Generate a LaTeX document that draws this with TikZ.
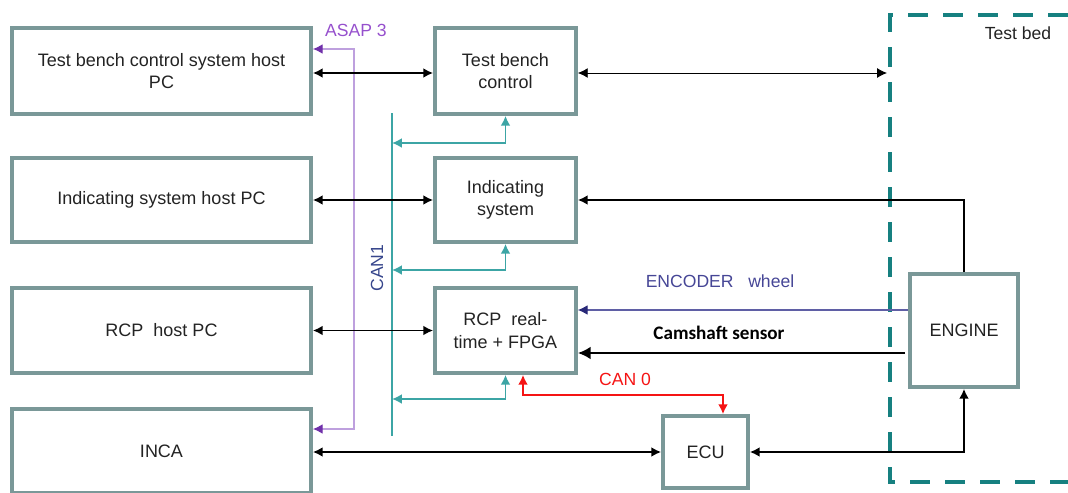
\documentclass[tikz,border=0pt]{standalone}
\usepackage{fontspec}
\setmainfont{Liberation Sans}
\newfontfamily\camfont{Carlito}
\usetikzlibrary{arrows.meta,positioning,calc}
\definecolor{boxgrey}{RGB}{122,152,152}
\definecolor{txtgrey}{RGB}{35,35,35}
\definecolor{canteal}{RGB}{60,165,165}
\definecolor{bedteal}{RGB}{22,128,128}
\definecolor{asapline}{RGB}{190,160,222}
\definecolor{asapdark}{RGB}{112,48,170}
\definecolor{asaptext}{RGB}{150,80,205}
\definecolor{encline}{RGB}{95,95,165}
\definecolor{encdark}{RGB}{40,40,120}
\definecolor{encblue}{RGB}{70,70,150}
\definecolor{canblue}{RGB}{55,70,140}
\definecolor{canred}{RGB}{245,20,20}

\begin{document}
\begin{tikzpicture}[x=0.025cm, y=-0.025cm,
    blk/.style={rectangle, draw=boxgrey, line width=2.6pt, fill=white,
                align=center, text=txtgrey, font=\fontsize{12.8}{16}\selectfont},
    link/.style={line width=1.3pt, draw=black,
                 {Latex[length=7pt,width=7pt]}-{Latex[length=7pt,width=7pt]}},
    thinlink/.style={line width=0.6pt, draw=black,
                 {Latex[length=7pt,width=7pt]}-{Latex[length=7pt,width=7pt]}},
    canlink/.style={line width=1.3pt, draw=canteal,
                 {Latex[length=7pt,width=7pt]}-{Latex[length=7pt,width=7pt]}},
    lbl/.style={font=\fontsize{12.5}{15}\selectfont, inner sep=1pt}
  ]
    \useasboundingbox (0,0) rectangle (1068,493);

    % Test bed frame
    \draw[bedteal, line width=3.4pt, dash pattern=on 0.5cm off 0.375cm]
      (1068,15) -- (890,15) -- (890,482) -- (1068,482);
    \node[lbl, text=txtgrey] (bedlbl) at (1018,33) {Test bed};

    % Host PCs
    \node[blk, minimum width=7.475cm, minimum height=2.15cm] (tbpc) at (161.5,71)
      {Test bench control system host\\PC};
    \node[blk, minimum width=7.475cm, minimum height=2.1cm] (ipc) at (161.5,200)
      {Indicating system host PC};
    \node[blk, minimum width=7.475cm, minimum height=2.125cm] (rpc) at (161.5,330.5)
      {RCP~ host PC};
    \node[blk, minimum width=7.475cm, minimum height=2.1cm] (inca) at (161.5,451)
      {INCA};

    % Real-time systems
    \node[blk, minimum width=3.525cm, minimum height=2.15cm] (tbc) at (505.5,71)
      {Test bench\\control};
    \node[blk, minimum width=3.525cm, minimum height=2.1cm] (ind) at (505.5,200)
      {Indicating\\system};
    \node[blk, minimum width=3.525cm, minimum height=2.125cm] (rcp) at (505.5,330.5)
      {RCP~ real-\\time + FPGA};
    \node[blk, minimum width=2.125cm, minimum height=1.8cm] (ecu) at (705.5,452)
      {ECU};
    \node[blk, minimum width=2.7cm, minimum height=2.825cm] (eng) at (964,330.5)
      {ENGINE};

    % ASAP 3
    \coordinate (asapT) at (354,49);
    \coordinate (asapB) at (354,429);
    \draw[asapline, line width=0.9pt,
          {Latex[length=7pt,width=7pt,color=asapdark]}-{Latex[length=7pt,width=7pt,color=asapdark]}]
      (tbpc.east |- asapT) -- (asapT) -- (asapB) -- (inca.east |- asapB);
    \node[lbl, text=asaptext] (asaplbl) at (356,30) {ASAP 3};

    % CAN1 bus
    \coordinate (canT) at (392,113);
    \coordinate (canB) at (392,436);
    \draw[canteal, line width=2pt] (canT) -- (canB);
    \node[lbl, text=canblue, rotate=90] (canlbl) at (377,268) {CAN1};
    \coordinate (j1) at (505.5,143);
    \coordinate (j2) at (505.5,270);
    \coordinate (j3) at (505.5,399);
    \draw[canlink] (tbc.south) -- (j1) -- (canT |- j1);
    \draw[canlink] (ind.south) -- (j2) -- (canT |- j2);
    \draw[canlink] (rcp.south) -- (j3) -- (canT |- j3);

    % host links
    \coordinate (bedW) at (887,73);
    \draw[link] (tbpc.east |- bedW) -- (tbc.west |- bedW);
    \draw[thinlink] (tbc.east |- bedW) -- (bedW);
    \draw[link] (ipc.east) -- (ind.west);
    \draw[link] (rpc.east) -- (rcp.west);
    \draw[link] (inca.east |- ecu.west) -- (ecu.west);
    \draw[link] (ecu.east) -| (eng.south);
    \draw[line width=1.3pt, -{Latex[length=7pt,width=7pt]}] (eng.north) |- (ind.east);

    % CAN 0
    \coordinate (c0a) at (523,395);
    \coordinate (c0b) at (723,395);
    \draw[canred, line width=1.3pt,
          {Latex[length=7pt,width=7pt]}-{Latex[length=7pt,width=7pt]}]
      (rcp.south -| c0a) -- (c0a) -- (c0b) -- (ecu.north -| c0b);
    \node[lbl, text=canred] (can0lbl) at (625,379) {CAN 0};

    % sensor signals
    \coordinate (enc) at (700,310);
    \draw[encline, line width=0.8pt, -{Latex[length=7pt,width=7pt,color=encdark]}]
      (eng.west |- enc) -- (rcp.east |- enc);
    \node[lbl, text=encblue] (enclbl) at (720,281) {ENCODER~~ wheel};
    \coordinate (cam) at (905,353);
    \draw[line width=1.6pt, -{Latex[length=9pt,width=9pt]}] (cam) -- (rcp.east |- cam);
    \node[font=\camfont\bfseries\fontsize{13.6}{15}\selectfont, inner sep=1pt] (camlbl)
      at (719,333) {Camshaft sensor};
  \end{tikzpicture}
\end{document}
